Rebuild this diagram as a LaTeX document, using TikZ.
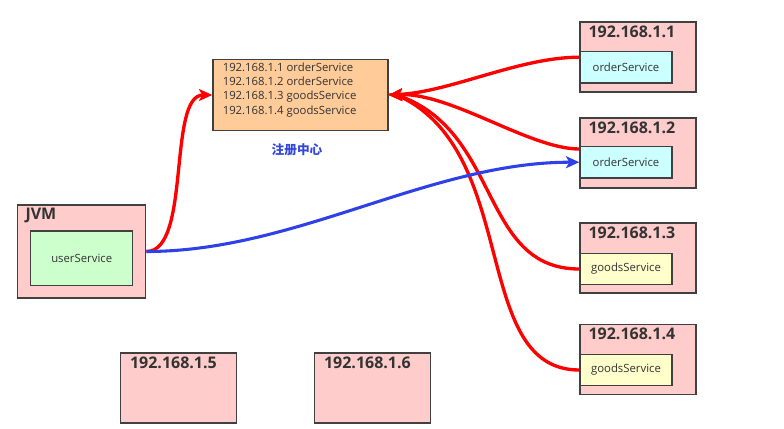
\documentclass[tikz,border=0pt]{standalone}
\usepackage{fontspec}
\setmainfont{Open Sans}
\newfontfamily\cjkfont{Noto Sans CJK SC}
\usepackage{tikz}
\usetikzlibrary{arrows.meta}
\definecolor{rcBoxGray}{HTML}{404040}
\definecolor{rcText}{HTML}{333333}
\definecolor{rcPink}{HTML}{FFCCCC}
\definecolor{rcOrange}{HTML}{FFCC99}
\definecolor{rcGreen}{HTML}{CCFFCC}
\definecolor{rcCyan}{HTML}{CCFFFF}
\definecolor{rcYellow}{HTML}{FFFFCC}
\definecolor{rcRed}{HTML}{FF0000}
\definecolor{rcBlue}{HTML}{2E40E8}
\definecolor{rcLabel}{HTML}{3548D8}

\begin{document}
\begin{tikzpicture}[x=0.75pt, y=-0.75pt,
  box/.style={draw=rcBoxGray, line width=1.1pt, inner sep=0pt},
  host/.style={box, fill=rcPink, minimum width=87pt, minimum height=52.5pt},
  svc/.style={box, minimum width=69pt, minimum height=23.5pt, text=rcText,
    font=\fontsize{8.5}{10}\selectfont},
  hosttitle/.style={anchor=north west, inner sep=0pt, text=rcText,
    font=\fontsize{12}{14}\selectfont\bfseries},
  regcall/.style={draw=rcRed, line width=2.5pt,
    -{Stealth[length=10pt, width=9pt, inset=2.5pt]}},
  rpccall/.style={draw=rcBlue, line width=2.3pt,
    -{Stealth[length=10pt, width=9pt, inset=2.5pt]}}]
  \useasboundingbox (0,0) rectangle (784,428);

  % Registry
  \node[box, fill=rcOrange, minimum width=131.25pt, minimum height=53.5pt] (reg) at (300.5,95) {};
  \node[anchor=north west, inner sep=0pt, align=left, text=rcText,
    font=\fontsize{8.5}{10.7}\selectfont] (regtext) at (222.5,62.5)
    {192.168.1.1 orderService\\192.168.1.2 orderService\\192.168.1.3 goodsService\\192.168.1.4 goodsService};
  \node[text=rcLabel, font=\cjkfont\bfseries\fontsize{9.5}{11}\selectfont] (reglabel) at (297,149.5) {注册中心};

  % Consumer
  \node[box, fill=rcPink, minimum width=96.3pt, minimum height=69.75pt] (jvm) at (81.5,251.5) {};
  \node[hosttitle] (jvmtitle) at ([xshift=6.5pt, yshift=-3pt]jvm.north west) {JVM};
  \node[svc, fill=rcGreen, minimum width=76.5pt, minimum height=41pt] (user) at (81.7,258.3) {userService};

  % Providers
  \node[host] (h1) at (638,57) {};
  \node[hosttitle] (h1title) at ([xshift=6.75pt, yshift=-3.2pt]h1.north west) {192.168.1.1};
  \node[svc, fill=rcCyan] (o1) at (626,67.2) {orderService};

  \node[host] (h2) at (638,153) {};
  \node[hosttitle] (h2title) at ([xshift=6.75pt, yshift=-3.2pt]h2.north west) {192.168.1.2};
  \node[svc, fill=rcCyan] (o2) at (626,162.2) {orderService};

  \node[host] (h3) at (638,258) {};
  \node[hosttitle] (h3title) at ([xshift=6.75pt, yshift=-3.2pt]h3.north west) {192.168.1.3};
  \node[svc, fill=rcYellow] (g3) at (626,269) {goodsService};

  \node[host] (h4) at (638,359.5) {};
  \node[hosttitle] (h4title) at ([xshift=6.75pt, yshift=-3.2pt]h4.north west) {192.168.1.4};
  \node[svc, fill=rcYellow] (g4) at (626,370) {goodsService};

  % Idle hosts
  \node[host] (h5) at (178.5,388) {};
  \node[hosttitle] (h5title) at ([xshift=7.5pt, yshift=-3.6pt]h5.north west) {192.168.1.5};
  \node[host] (h6) at (372.5,388) {};
  \node[hosttitle] (h6title) at ([xshift=7.5pt, yshift=-3.6pt]h6.north west) {192.168.1.6};

  % Register and lookup
  \draw[regcall] (jvm.east) .. controls +(45,0) and +(-45,0) .. (reg.west);
  \draw[regcall] ([yshift=7.5pt]o1.west) .. controls +(-60,0) and +(62,-3) .. (reg.east);
  \draw[regcall] ([yshift=9.9pt]o2.west) .. controls +(-50,0) and +(62,-3) .. (reg.east);
  \draw[regcall] (g3.west) .. controls +(-100,0) and +(105,35) .. ([xshift=6pt]reg.east) -- (reg.east);
  \draw[regcall] (g4.west) .. controls +(-110,0) and +(125,55) .. ([xshift=6pt]reg.east) -- (reg.east);

  % Remote call
  \draw[rpccall] (jvm.east) .. controls +(150,0) and +(-150,0) .. (o2.west);
\end{tikzpicture}
\end{document}
